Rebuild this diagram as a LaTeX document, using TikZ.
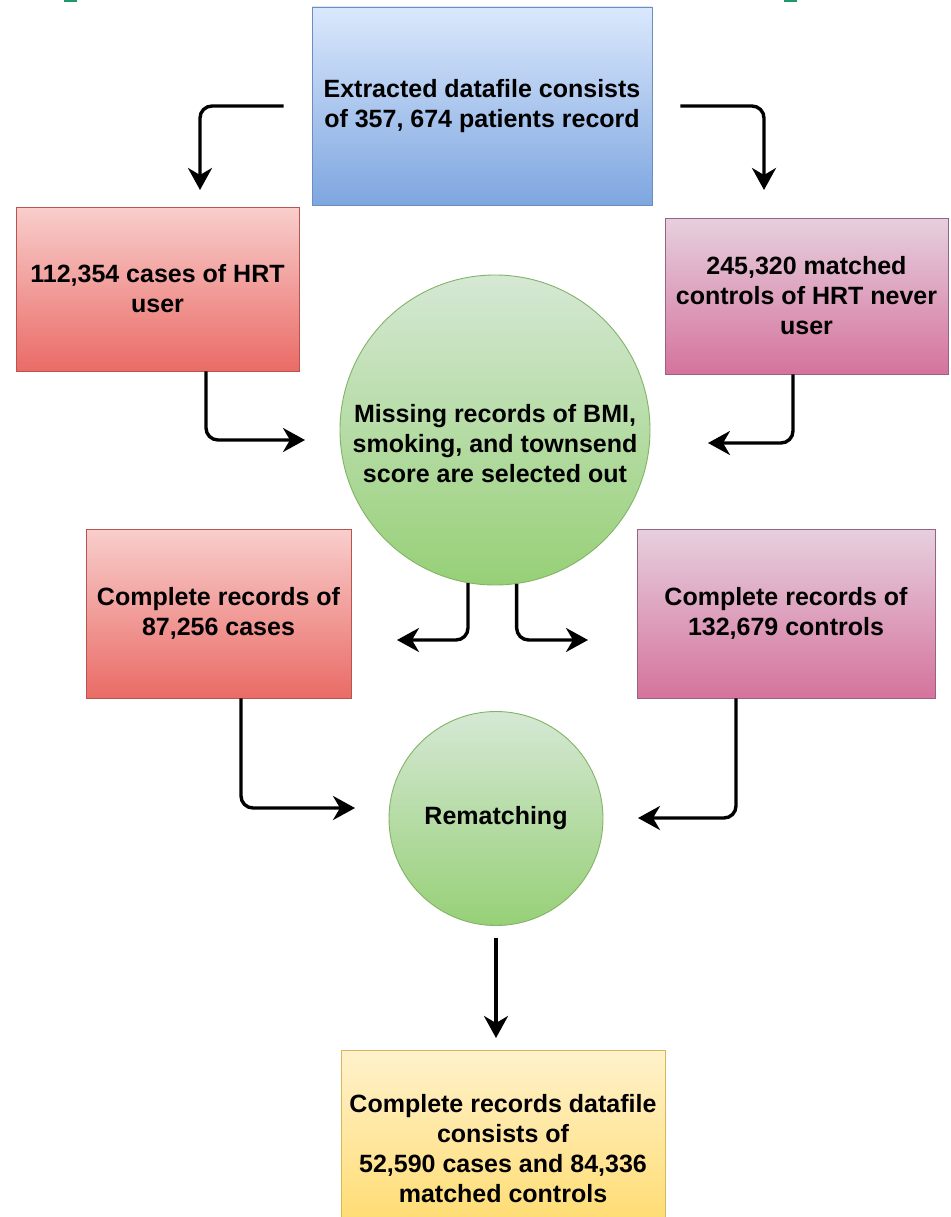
\documentclass[tikz,border=0pt]{standalone}
\usepackage{fontspec}
\setmainfont{Liberation Sans}
\usetikzlibrary{arrows.meta}
\definecolor{blueTop}{HTML}{DAE8FC}
\definecolor{blueBot}{HTML}{7EA6E0}
\definecolor{blueLine}{HTML}{6C8EBF}
\definecolor{redTop}{HTML}{F8CECC}
\definecolor{redBot}{HTML}{EA6B66}
\definecolor{redLine}{HTML}{B85450}
\definecolor{purTop}{HTML}{E6D0DE}
\definecolor{purBot}{HTML}{D5739D}
\definecolor{purLine}{HTML}{996185}
\definecolor{grnTop}{HTML}{D5E8D4}
\definecolor{grnBot}{HTML}{97D077}
\definecolor{grnLine}{HTML}{82B366}
\definecolor{ylwTop}{HTML}{FFF2CC}
\definecolor{ylwBot}{HTML}{FFD966}
\definecolor{ylwLine}{HTML}{D6B656}
\definecolor{markGreen}{HTML}{1E9A6A}
\begin{document}
\begin{tikzpicture}[x=1pt,y=-1pt,
  lbl/.style={font=\bfseries\fontsize{25}{30}\selectfont, align=center, text=black},
  boxshape/.style={rectangle, draw, line width=0.9pt, inner sep=0pt, lbl},
  blueBox/.style={boxshape, draw=blueLine, top color=blueTop, bottom color=blueBot},
  redBox/.style={boxshape, draw=redLine, top color=redTop, bottom color=redBot},
  purBox/.style={boxshape, draw=purLine, top color=purTop, bottom color=purBot},
  ylwBox/.style={boxshape, draw=ylwLine, top color=ylwTop, bottom color=ylwBot},
  grnCirc/.style={circle, draw=grnLine, line width=0.9pt, inner sep=0pt, top color=grnTop, bottom color=grnBot, lbl},
  arr/.style={line width=3.4pt, rounded corners=12pt, -{Stealth[length=22pt,width=24pt,inset=7pt]}}
]
\useasboundingbox (0,0) rectangle (950,1217);
\clip (0,0) rectangle (950,1217);
\fill[white] (0,0) rectangle (950,1217);

% small marks at the top edge
\fill[markGreen] (64,0) rectangle (77,1.6);
\fill[markGreen] (784,0) rectangle (797,1.6);

% nodes
\node[blueBox, minimum width=340pt, minimum height=198pt] (top) at (482,106)
  {Extracted datafile consists\\of 357, 674 patients record};
\node[redBox, minimum width=283pt, minimum height=164pt] (cases) at (157.5,289)
  {112,354 cases of HRT\\user};
\node[purBox, minimum width=283pt, minimum height=156pt] (ctrls) at (806.5,296)
  {245,320 matched\\controls of HRT never\\user};
\node[grnCirc, minimum size=310pt,
  label={[lbl, yshift=-14pt]center:{Missing records of BMI,\\smoking, and townsend\\score are selected out}}] (miss) at (495,430) {};
\node[redBox, minimum width=265pt, minimum height=169pt] (ccases) at (218.5,613.5)
  {Complete records of\\87,256 cases};
\node[purBox, minimum width=298pt, minimum height=169pt] (cctrls) at (786,613.5)
  {Complete records of\\132,679 controls};
\node[grnCirc, minimum size=214pt] (rem) at (496,818.5) {Rematching};
\node[ylwBox, minimum width=324pt, minimum height=197pt] (final) at (503,1148.5)
  {Complete records datafile\\consists of\\52,590 cases and 84,336\\matched controls};

% free ends
\coordinate (e1) at (200,190);
\coordinate (e2) at (764,190);
\coordinate (e3) at (305,440);
\coordinate (e4) at (708,443);
\coordinate (e5) at (397,640);
\coordinate (e6) at (588,640);
\coordinate (e7) at (355,808);
\coordinate (e8) at (638,818);
\coordinate (e9) at (496,1038);

% connectors
\draw[arr] ([xshift=-28pt]top.west) -| (e1);
\draw[arr] ([xshift=28pt]top.east) -| (e2);
\draw[arr] ([xshift=48.5pt]cases.south) |- (e3);
\draw[arr] ([xshift=-13.5pt]ctrls.south) |- (e4);
\draw[arr] (miss.260) |- (e5);
\draw[arr] (miss.278) |- (e6);
\draw[arr] ([xshift=22.5pt]ccases.south) |- (e7);
\draw[arr] ([xshift=-50pt]cctrls.south) |- (e8);
\draw[arr] ([yshift=-12pt]rem.south) -- (e9);
\end{tikzpicture}
\end{document}
